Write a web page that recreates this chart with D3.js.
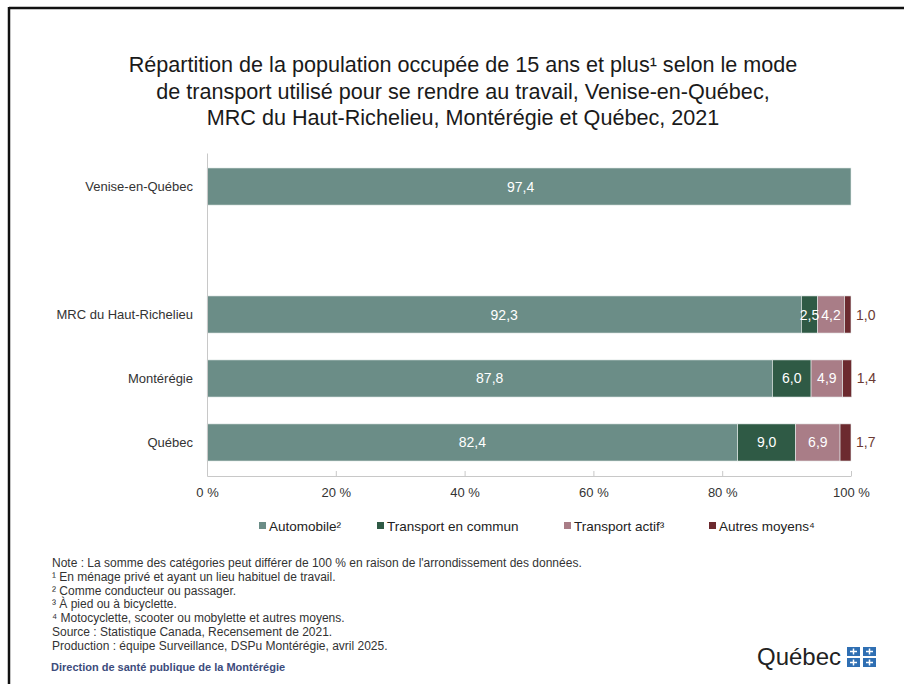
<!DOCTYPE html>
<html lang="fr">
<head>
<meta charset="utf-8">
<script src="https://cdn.jsdelivr.net/npm/d3@7/dist/d3.min.js"></script>
<style>
  html, body { margin: 0; padding: 0; background: #fff; }
  svg { display: block; }
  text { font-family: "Liberation Sans", Arial, sans-serif; }
</style>
</head>
<body>
<svg width="904" height="684"></svg>
<script>
'use strict';

// Data
var categories = ["Venise-en-Québec", "", "MRC du Haut-Richelieu", "Montérégie", "Québec"];
var automobile = [97.4, null, 92.3, 87.8, 82.4];
var transportCommun = [null, null, 2.5, 6.0, 9.0];
var transportActif = [null, null, 4.2, 4.9, 6.9];
var autresMoyens = [null, null, 1.0, 1.4, 1.7];
// reste non publié pour Venise-en-Québec (barre complète à 100 %)
var nonPublie = [2.6, null, 0, 0, 0];

var seriesNames = ["Automobile²", "Transport en commun", "Transport actif³", "Autres moyens⁴"];
var seriesColors = ["#6b8d87", "#2f5a45", "#a97d87", "#6c2a2f"];
var xTicks = [0, 20, 40, 60, 80, 100];

var titleLines = [
  "Répartition de la population occupée de 15 ans et plus¹ selon le mode",
  "de transport utilisé pour se rendre au travail, Venise-en-Québec,",
  "MRC du Haut-Richelieu, Montérégie et Québec, 2021"
];
var notes = [
  "Note : La somme des catégories peut différer de 100 % en raison de l'arrondissement des données.",
  "¹ En ménage privé et ayant un lieu habituel de travail.",
  "² Comme conducteur ou passager.",
  "³ À pied ou à bicyclette.",
  "⁴ Motocyclette, scooter ou mobylette et autres moyens.",
  "Source : Statistique Canada, Recensement de 2021.",
  "Production : équipe Surveillance, DSPu Montérégie, avril 2025."
];

var svg = d3.select("svg");
var fmt = function (v) { return d3.format(".1f")(v).replace(".", ","); };

// Frame (top and left borders only visible)
svg.append("line").attr("x1", 9).attr("y1", 8).attr("x2", 904).attr("y2", 8)
  .attr("stroke", "#111").attr("stroke-width", 2.5);
svg.append("line").attr("x1", 9).attr("y1", 7).attr("x2", 9).attr("y2", 684)
  .attr("stroke", "#111").attr("stroke-width", 2.5);

// Title
svg.append("text")
  .attr("text-anchor", "middle")
  .attr("font-size", 21.6)
  .attr("fill", "#1a1a1a")
  .selectAll("tspan").data(titleLines).enter().append("tspan")
  .attr("x", 463)
  .attr("y", function (d, i) { return 72 + i * 26.5; })
  .text(function (d) { return d; });

// Scales
var x = d3.scaleLinear().domain([0, 100]).range([207, 851]);
var y = d3.scaleBand().domain(categories).range([153, 476])
  .paddingInner(0.42).paddingOuter(0.234);

// Stacked rows
var rows = categories.map(function (c, i) {
  return {
    cat: c,
    values: [automobile[i], transportCommun[i], transportActif[i], autresMoyens[i]],
    rest: nonPublie[i]
  };
});

var bars = svg.append("g").attr("class", "bars");
rows.forEach(function (row) {
  if (row.values[0] == null) return;
  var total = d3.sum(row.values) + (row.rest || 0);
  var x0 = 0;
  if (row.rest) {
    // unpublished remainder merged into one bar in the automobile colour
    bars.append("rect")
      .attr("x", x(0))
      .attr("y", y(row.cat))
      .attr("width", x(total) - x(0))
      .attr("height", y.bandwidth())
      .attr("fill", seriesColors[0])
      .attr("stroke", "#e8eeed")
      .attr("stroke-width", 0.6);
  } else {
    row.values.forEach(function (v, k) {
      bars.append("rect")
        .attr("x", x(x0))
        .attr("y", y(row.cat))
        .attr("width", x(x0 + v) - x(x0))
        .attr("height", y.bandwidth())
        .attr("fill", seriesColors[k])
        .attr("stroke", "#e8eeed")
        .attr("stroke-width", 0.6);
      x0 += v;
    });
  }
  x0 = 0;
  row.values.forEach(function (v, k) {
    if (v == null) return;
    var lbl;
    if (k < 3) {
      lbl = bars.append("text")
        .attr("x", (x(x0) + x(x0 + v)) / 2)
        .attr("text-anchor", "middle")
        .attr("fill", "#fff");
    } else {
      lbl = bars.append("text")
        .attr("x", x(x0 + v) + 5)
        .attr("text-anchor", "start")
        .attr("fill", "#6b3a34");
    }
    lbl.attr("y", y(row.cat) + y.bandwidth() / 2 + 5)
      .attr("font-size", 14)
      .text(fmt(v));
    x0 += v;
  });
});

// Category axis
var yAxis = svg.append("g").attr("transform", "translate(" + x(0) + ",0)")
  .call(d3.axisLeft(y).tickSize(0).tickPadding(14));
yAxis.select(".domain").attr("stroke", "#c8c8c8");
yAxis.selectAll("text").attr("font-size", 13).attr("fill", "#333")
  .attr("font-family", "\"Liberation Sans\", Arial, sans-serif");

// Value axis
var xAxis = svg.append("g").attr("transform", "translate(0," + 476 + ")")
  .call(d3.axisBottom(x).tickValues(xTicks).tickSize(-5).tickSizeOuter(0).tickPadding(12)
    .tickFormat(function (d) { return d + " %"; }));
xAxis.select(".domain").attr("stroke", "#c8c8c8");
xAxis.selectAll(".tick line").attr("stroke", "#c8c8c8");
xAxis.selectAll("text").attr("font-size", 13).attr("fill", "#333")
  .attr("font-family", "\"Liberation Sans\", Arial, sans-serif");

// Legend
var legendX = [259, 377, 564, 709];
var legend = svg.append("g").selectAll("g").data(seriesNames).enter().append("g")
  .attr("transform", function (d, i) { return "translate(" + legendX[i] + ",526)"; });
legend.append("rect").attr("x", 0).attr("y", -4).attr("width", 7).attr("height", 7)
  .attr("fill", function (d, i) { return seriesColors[i]; });
legend.append("text").attr("x", 10).attr("y", 5).attr("font-size", 13.5).attr("fill", "#222")
  .text(function (d) { return d; });

// Notes
svg.append("g").selectAll("text").data(notes).enter().append("text")
  .attr("x", 52)
  .attr("y", function (d, i) { return 567 + i * 13.8; })
  .attr("font-size", 12)
  .attr("fill", "#333")
  .text(function (d) { return d; });

svg.append("text")
  .attr("x", 51).attr("y", 671)
  .attr("font-size", 11).attr("font-weight", "bold")
  .attr("fill", "#3d4c7c")
  .attr("font-family", "Carlito, Calibri, \"Open Sans\", sans-serif")
  .text("Direction de santé publique de la Montérégie");

// Québec logo
svg.append("text")
  .attr("x", 757).attr("y", 665)
  .attr("font-size", 24)
  .attr("fill", "#222")
  .attr("font-family", "\"Open Sans\", \"DejaVu Sans\", sans-serif")
  .attr("textLength", 84)
  .attr("lengthAdjust", "spacingAndGlyphs")
  .text("Québec");
var flagPos = [[847, 647], [863, 647], [847, 658], [863, 658]];
var flag = svg.append("g");
flagPos.forEach(function (p) {
  flag.append("rect").attr("x", p[0]).attr("y", p[1]).attr("width", 13).attr("height", 9)
    .attr("fill", "#2f6fb3");
  flag.append("line").attr("x1", p[0] + 6.5).attr("x2", p[0] + 6.5).attr("y1", p[1] + 1.5).attr("y2", p[1] + 7.5)
    .attr("stroke", "#fff").attr("stroke-width", 1.5);
  flag.append("line").attr("x1", p[0] + 3).attr("x2", p[0] + 10).attr("y1", p[1] + 4.5).attr("y2", p[1] + 4.5)
    .attr("stroke", "#fff").attr("stroke-width", 1.5);
});
</script>
</body>
</html>
